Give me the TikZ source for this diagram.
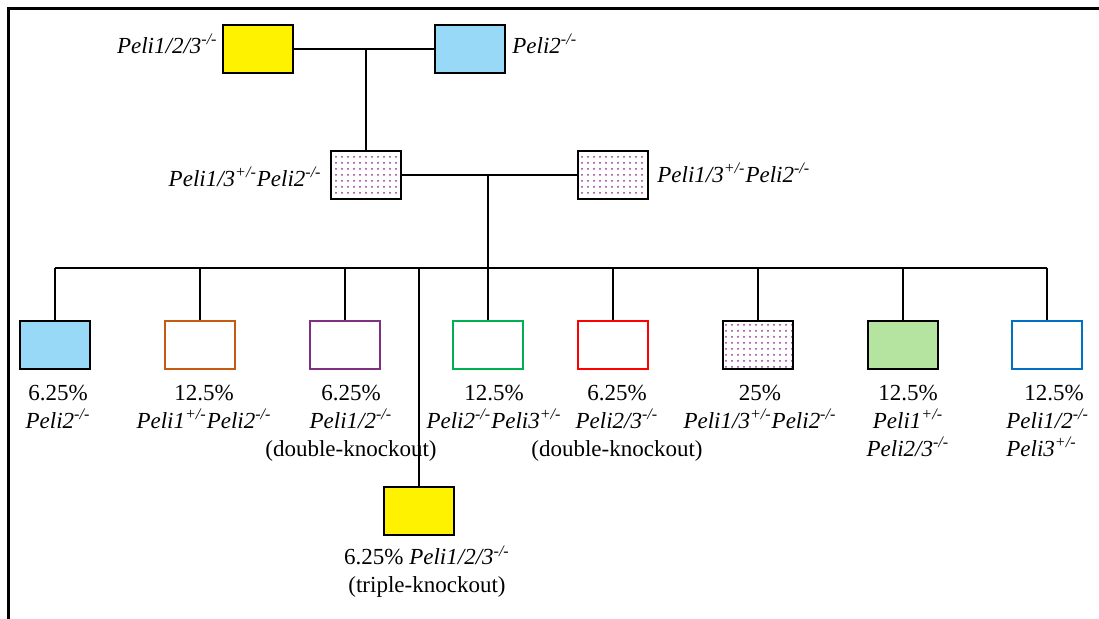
\documentclass[tikz,border=0pt]{standalone}
\usepackage{fontspec}
\setmainfont{Liberation Serif}
\usetikzlibrary{patterns.meta}
\definecolor{skyfill}{RGB}{151,217,246}
\definecolor{leaffill}{RGB}{181,227,160}
\definecolor{dotpink}{RGB}{150,50,150}
\definecolor{rustline}{RGB}{197,90,17}
\definecolor{plumline}{RGB}{128,48,128}
\definecolor{greenline}{RGB}{0,176,80}
\definecolor{blueline}{RGB}{0,112,192}
\newcommand{\geno}[2]{\textit{#1\textsuperscript{#2}}}
\begin{document}
\begin{tikzpicture}[x=0.5pt,y=-0.5pt,
    box/.style={draw,line width=1.1pt,minimum width=35pt,minimum height=24pt,inner sep=0pt},
    dotbox/.style={box,pattern={Dots[distance=3pt,radius=0.5pt]},pattern color=dotpink},
    lbl/.style={inner sep=0pt,align=center,font=\fontsize{11.5}{14}\selectfont},
    link/.style={line width=0.8pt}]
\useasboundingbox (0,0) rectangle (1099,619);
\draw[line width=1.5pt] (8,619) -- (8,9) -- (1099,9);

% parents and F1
\begin{scope}
    \node[box,fill=yellow] (p1) at (258,49) {};
    \node[box,fill=skyfill] (p2) at (470,49) {};
    \node[dotbox] (f1) at (366,175) {};
    \node[dotbox] (f2) at (613,175) {};
\end{scope}

% offspring
\begin{scope}
    \node[box,fill=skyfill] (k1) at (55,345) {};
    \node[box,draw=rustline] (k2) at (200,345) {};
    \node[box,draw=plumline] (k3) at (345,345) {};
    \node[box,draw=greenline] (k4) at (488,345) {};
    \node[box,draw=red] (k5) at (613,345) {};
    \node[dotbox] (k6) at (758,345) {};
    \node[box,fill=leaffill] (k7) at (903,345) {};
    \node[box,draw=blueline] (k8) at (1047,345) {};
    \node[box,fill=yellow] (k9) at (419,511) {};
\end{scope}

% labels
\begin{scope}[every node/.style={lbl}]
    \node[anchor=mid east] (lp1) at (218,49) {\geno{Peli1/2/3}{-/-}};
    \node[anchor=mid west] (lp2) at (512,49) {\geno{Peli2}{-/-}};
    \node[anchor=mid east] (lf1) at (322,182) {\geno{Peli1/3}{+/-}\geno{Peli2}{-/-}};
    \node[anchor=mid west] (lf2) at (657,178) {\geno{Peli1/3}{+/-}\geno{Peli2}{-/-}};
    \node[anchor=north] (lk1) at (58,385) {6.25\%\\\geno{Peli2}{-/-}};
    \node[anchor=north] (lk2) at (204,385) {12.5\%\\\geno{Peli1}{+/-}\geno{Peli2}{-/-}};
    \node[anchor=north] (lk3) at (351,385) {6.25\%\\\geno{Peli1/2}{-/-}\\(double-knockout)};
    \node[anchor=north] (lk4) at (494,385) {12.5\%\\\geno{Peli2}{-/-}\geno{Peli3}{+/-}};
    \node[anchor=north] (lk5) at (617,385) {6.25\%\\\geno{Peli2/3}{-/-}\\(double-knockout)};
    \node[anchor=north] (lk6) at (760,385) {25\%\\\geno{Peli1/3}{+/-}\geno{Peli2}{-/-}};
    \node[anchor=north] (lk7) at (908,385) {12.5\%\\\geno{Peli1}{+/-}\\\geno{Peli2/3}{-/-}};
    \node[anchor=north west,align=left] (lk8) at (1006,385) {\hspace*{9pt}12.5\%\\\geno{Peli1/2}{-/-}\\\geno{Peli3}{+/-}};
    \node[anchor=north] (lk9) at (427,545) {6.25\% \geno{Peli1/2/3}{-/-}\\(triple-knockout)};
\end{scope}

% connectors
\begin{scope}[link]
    \coordinate (m1) at (366,49);
    \coordinate (m2) at (488,175);
    \coordinate (bar) at (488,268);
    \draw (p1) -- (p2);
    \draw (m1) -- (f1);
    \draw (f1) -- (f2);
    \draw (m2) -- (bar);
    \draw (bar -| k1) -- (bar -| k8);
    \foreach \i in {1,...,9}
        \draw (bar -| k\i) -- (k\i.north);
\end{scope}
\end{tikzpicture}
\end{document}
